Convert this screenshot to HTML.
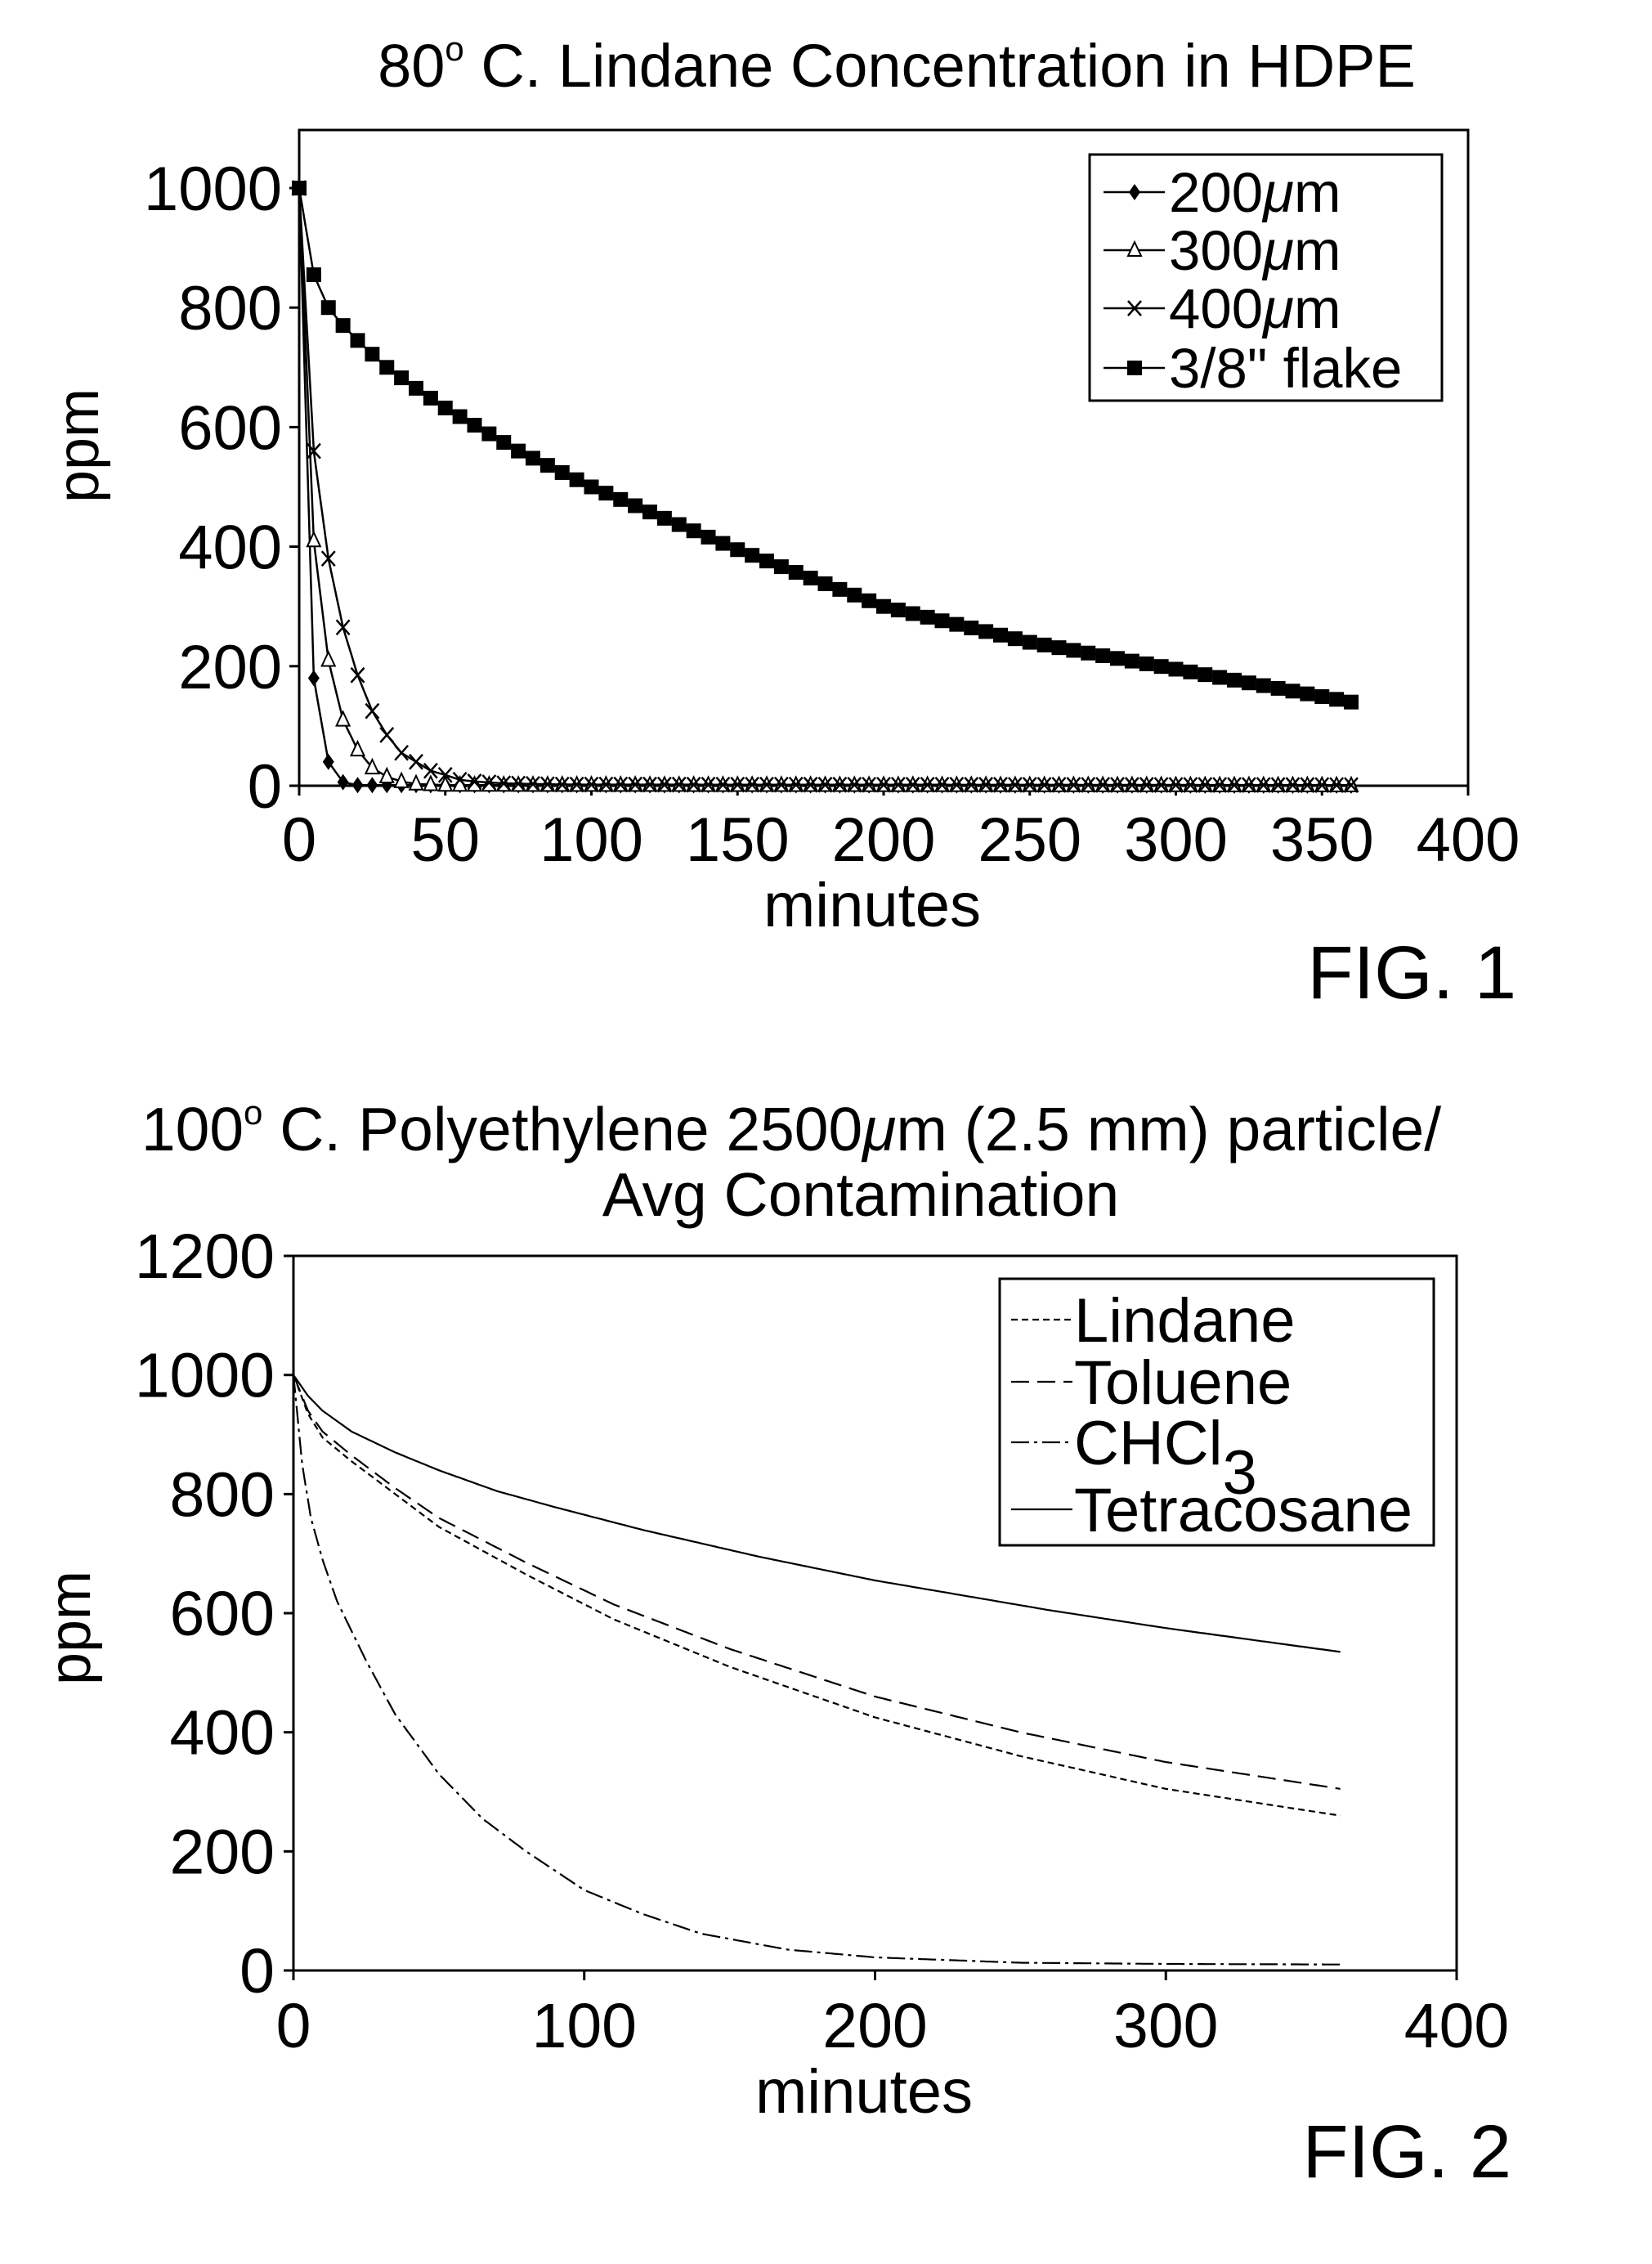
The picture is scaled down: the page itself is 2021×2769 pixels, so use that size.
<!DOCTYPE html>
<html><head><meta charset="utf-8"><style>
html,body{margin:0;padding:0;background:#fff}
svg{display:block}
text{font-family:"Liberation Sans",Arial,sans-serif;fill:#000}
</style></head><body>
<svg id="s" width="2021" height="2769" viewBox="0 0 2021 2769" xmlns="http://www.w3.org/2000/svg">
<rect width="2021" height="2769" fill="#fff"/>
<!-- FIG 1 -->
<text x="1097" y="106" font-size="74" text-anchor="middle">80<tspan font-size="42" dy="-32">o</tspan><tspan dy="32"> C. Lindane Concentration in HDPE</tspan></text>
<rect x="366" y="159" width="1430" height="802" fill="none" stroke="#000" stroke-width="3"/>
<g id="f1"></g>
<text x="120" y="545" font-size="72" text-anchor="middle" transform="rotate(-90 120 545)">ppm</text>
<text x="1067" y="1133" font-size="76" text-anchor="middle">minutes</text>
<text x="1855" y="1221" font-size="92" text-anchor="end">FIG. 1</text>
<rect x="1333" y="189" width="431" height="301" fill="#fff" stroke="#000" stroke-width="3"/>
<g id="leg1"></g>
<!-- FIG 2 -->
<text x="968" y="1407" font-size="75" text-anchor="middle">100<tspan font-size="42" dy="-32">o</tspan><tspan dy="32"> C. Polyethylene 2500</tspan><tspan font-style="italic">μ</tspan>m (2.5 mm) particle/</text>
<text x="1053" y="1487" font-size="75" text-anchor="middle">Avg Contamination</text>
<path d="M359 1536 H1782 V2410 M359 1536 V2410 H1782" fill="none" stroke="#000" stroke-width="3"/>
<g id="f2"></g>
<text x="110" y="1991" font-size="72" text-anchor="middle" transform="rotate(-90 110 1991)">ppm</text>
<text x="1057" y="2584" font-size="76" text-anchor="middle">minutes</text>
<text x="1849" y="2663" font-size="92" text-anchor="end">FIG. 2</text>
<rect x="1223" y="1564" width="531" height="326" fill="#fff" stroke="#000" stroke-width="3"/>
<g id="leg2"></g>
</svg>
<script>
var NS="http://www.w3.org/2000/svg";
function el(p,t,a,txt){var e=document.createElementNS(NS,t);for(var k in a)e.setAttribute(k,a[k]);if(txt!=null)e.textContent=txt;p.appendChild(e);return e;}
function interp(pts,t){for(var i=1;i<pts.length;i++){if(t<=pts[i][0]){var a=pts[i-1],b=pts[i];return a[1]+(b[1]-a[1])*(t-a[0])/(b[0]-a[0]);}}return pts[pts.length-1][1];}
var g1=document.getElementById('f1');
function X1(t){return 366+t*1430/400;} function Y1(v){return 961-v*0.731;}
for(var v=0;v<=1000;v+=200){el(g1,'line',{x1:354,x2:366,y1:Y1(v),y2:Y1(v),stroke:'#000','stroke-width':3});el(g1,'text',{x:345,y:Y1(v)+27,'font-size':76,'text-anchor':'end'},v);}
for(var t=0;t<=400;t+=50){el(g1,'line',{x1:X1(t),x2:X1(t),y1:961,y2:973,stroke:'#000','stroke-width':3});el(g1,'text',{x:X1(t),y:1053,'font-size':76,'text-anchor':'middle'},t);}
el(g1,'line',{x1:366,x2:1796,y1:961,y2:961,stroke:'#000','stroke-width':3});
var s200=[[0,1000],[5,180],[10,40],[15,6],[20,1],[400,0]];
var s300=[[0,1000],[5,410],[10,210],[15,110],[20,60],[25,30],[30,15],[35,7],[40,3],[50,1],[400,0]];
var s400=[[0,1000],[5,560],[10,380],[15,265],[20,185],[25,125],[30,85],[35,55],[40,40],[45,25],[50,18],[55,10],[60,7],[70,4],[90,2],[400,1]];
var sfl=[[0,1000],[5,855],[10,800],[15,770],[20,745],[25,722],[30,700],[40,665],[50,632],[75,560],[100,500],[150,395],[200,300],[250,240],[300,195],[360,140]];
function series(g,pts,X,Y,mk,step){var d='';for(var t=0;t<=360;t+=1){d+=(t?'L':'M')+X(t).toFixed(1)+' '+Y(interp(pts,t)).toFixed(1);}el(g,'path',{d:d,fill:'none',stroke:'#000','stroke-width':2.5});for(var t=0;t<=360;t+=step){mk(g,X(t),Y(interp(pts,t)));}}
function mDiamond(g,x,y){el(g,'path',{d:'M'+x+' '+(y-10)+'L'+(x+7)+' '+y+'L'+x+' '+(y+10)+'L'+(x-7)+' '+y+'Z',fill:'#000'});}
function mTri(g,x,y){el(g,'path',{d:'M'+x+' '+(y-10)+'L'+(x+8)+' '+(y+7)+'L'+(x-8)+' '+(y+7)+'Z',fill:'#fff',stroke:'#000','stroke-width':2});}
function mX(g,x,y){el(g,'path',{d:'M'+(x-8)+' '+(y-9)+'L'+(x+8)+' '+(y+9)+'M'+(x+8)+' '+(y-9)+'L'+(x-8)+' '+(y+9),stroke:'#000','stroke-width':2.5});}
function mSq(g,x,y){el(g,'rect',{x:x-9,y:y-9,width:18,height:18,fill:'#000'});}
series(g1,s200,X1,Y1,mDiamond,5);series(g1,s300,X1,Y1,mTri,5);series(g1,s400,X1,Y1,mX,5);series(g1,sfl,X1,Y1,mSq,5);
var lg=document.getElementById('leg1');
var L1=[['200μm',mDiamond,235],['300μm',mTri,306],['400μm',mX,377],['3/8" flake',mSq,450]];
L1.forEach(function(r){el(lg,'line',{x1:1350,x2:1425,y1:r[2],y2:r[2],stroke:'#000','stroke-width':2.5});r[1](lg,1388,r[2]);var tx=el(lg,'text',{x:1430,y:r[2]+24,'font-size':69});if(r[0].indexOf('μ')>=0){el(tx,'tspan',{},r[0].slice(0,3));el(tx,'tspan',{'font-style':'italic'},'μ');el(tx,'tspan',{},'m');}else tx.textContent=r[0];});
var g2=document.getElementById('f2');
function X2(t){return 359+t*1423/400;} function Y2(v){return 2410-v*0.7283;}
for(var v=0;v<=1200;v+=200){el(g2,'line',{x1:347,x2:359,y1:Y2(v),y2:Y2(v),stroke:'#000','stroke-width':3});el(g2,'text',{x:336,y:Y2(v)+27,'font-size':77,'text-anchor':'end'},v);}
for(var t=0;t<=400;t+=100){el(g2,'line',{x1:X2(t),x2:X2(t),y1:2410,y2:2422,stroke:'#000','stroke-width':3});el(g2,'text',{x:X2(t),y:2504,'font-size':77,'text-anchor':'middle'},t);}
var tet=[[0,1000],[5,965],[10,940],[20,905],[35,870],[50,840],[70,805],[90,778],[120,740],[160,695],[200,655],[260,605],[300,575],[360,535]];
var tol=[[0,1000],[5,940],[10,905],[20,865],[35,810],[50,760],[80,685],[110,615],[150,540],[200,460],[250,400],[300,350],[360,305]];
var lin=[[0,1000],[5,935],[10,895],[20,855],[35,800],[50,745],[80,665],[110,590],[150,510],[200,425],[250,360],[300,305],[360,260]];
var chc=[[0,1000],[3,850],[6,760],[10,690],[15,620],[25,520],[35,430],[50,330],[65,255],[80,200],[100,135],[120,95],[140,62],[170,35],[200,22],[250,13],[300,11],[360,10]];
function curve(g,pts,dash){var d='';for(var t=0;t<=360;t+=1){d+=(t?'L':'M')+X2(t).toFixed(1)+' '+Y2(interp(pts,t)).toFixed(1);}var a={d:d,fill:'none',stroke:'#000','stroke-width':2.2};if(dash)a['stroke-dasharray']=dash;el(g,'path',a);}
curve(g2,tet,null);curve(g2,tol,'22 10');curve(g2,lin,'8 5');curve(g2,chc,'22 6 4 6');
var lg2=document.getElementById('leg2');
var L2=[['Lindane','8 5',1614],['Toluene','22 10',1690],['CHCl','22 6 4 6',1764],['Tetracosane',null,1846]];
L2.forEach(function(r){var a={x1:1237,x2:1312,y1:r[2],y2:r[2],stroke:'#000','stroke-width':2.2};if(r[1])a['stroke-dasharray']=r[1];el(lg2,'line',a);var tx=el(lg2,'text',{x:1314,y:r[2]+27,'font-size':76},r[0]);if(r[0]=='CHCl'){el(tx,'tspan',{dy:36},'3');}});
</script>
</body></html>
